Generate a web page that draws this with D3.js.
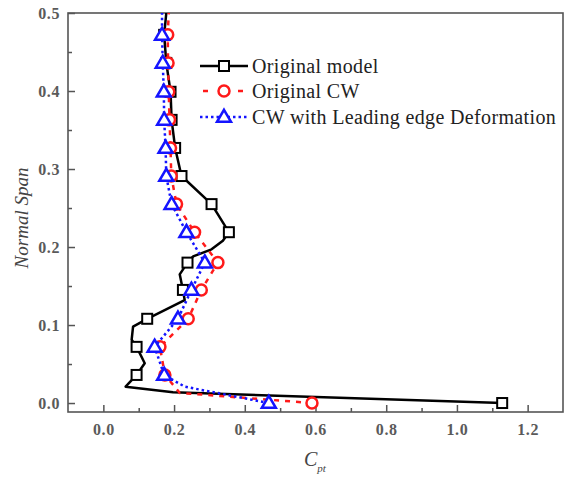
<!DOCTYPE html>
<html>
<head>
<meta charset="utf-8">
<script src="https://cdn.jsdelivr.net/npm/d3@7"></script>
<style>
  html, body { margin: 0; padding: 0; background: #fff; }
  svg { display: block; }
  text { font-family: "Liberation Serif", "Times New Roman", serif; }
</style>
</head>
<body>
<svg id="chart" width="569" height="480"></svg>
<script>
// ---- data (Cpt, Normal Span) ----
const seriesNames = ["Original model", "Original CW", "CW with Leading edge Deformation"];

// line paths (bottom to top)
const origModelLine = [
  [1.128, 0.0], [0.197, 0.0137], [0.063, 0.021], [0.094, 0.036], [0.117, 0.051],
  [0.094, 0.072], [0.080, 0.081], [0.084, 0.098], [0.124, 0.108], [0.230, 0.132],
  [0.225, 0.145], [0.216, 0.165], [0.238, 0.180], [0.254, 0.188], [0.306, 0.197],
  [0.338, 0.208], [0.355, 0.219], [0.306, 0.255], [0.221, 0.291], [0.203, 0.327],
  [0.193, 0.363], [0.190, 0.399], [0.178, 0.436], [0.172, 0.472], [0.178, 0.5]
];
const origModelMarkers = [
  [1.128, 0.0], [0.094, 0.036], [0.094, 0.072], [0.124, 0.108], [0.225, 0.145],
  [0.238, 0.180], [0.355, 0.219], [0.306, 0.255], [0.221, 0.291], [0.203, 0.327],
  [0.193, 0.363], [0.190, 0.399], [0.178, 0.436], [0.172, 0.472]
];

const origCWLine = [
  [0.590, 0.0], [0.216, 0.013], [0.174, 0.036], [0.160, 0.072], [0.240, 0.108],
  [0.277, 0.145], [0.324, 0.180], [0.258, 0.219], [0.207, 0.255], [0.192, 0.291],
  [0.190, 0.327], [0.187, 0.363], [0.185, 0.399], [0.183, 0.436], [0.182, 0.472], [0.185, 0.5]
];
const origCWMarkers = [
  [0.590, 0.0], [0.174, 0.036], [0.160, 0.072], [0.240, 0.108], [0.277, 0.145],
  [0.324, 0.180], [0.258, 0.219], [0.207, 0.255], [0.192, 0.291], [0.190, 0.327],
  [0.187, 0.363], [0.185, 0.399], [0.183, 0.436], [0.182, 0.472]
];

const cwLEDLine = [
  [0.468, 0.0], [0.230, 0.021], [0.172, 0.036], [0.145, 0.072], [0.211, 0.108],
  [0.249, 0.145], [0.287, 0.180], [0.235, 0.219], [0.193, 0.255], [0.178, 0.291],
  [0.176, 0.327], [0.172, 0.363], [0.171, 0.399], [0.168, 0.436], [0.166, 0.472], [0.166, 0.5]
];
const cwLEDMarkers = [
  [0.468, 0.0], [0.172, 0.036], [0.145, 0.072], [0.211, 0.108], [0.249, 0.145],
  [0.287, 0.180], [0.235, 0.219], [0.193, 0.255], [0.178, 0.291], [0.176, 0.327],
  [0.172, 0.363], [0.171, 0.399], [0.168, 0.436], [0.166, 0.472]
];

const xTicks = [0.0, 0.2, 0.4, 0.6, 0.8, 1.0, 1.2];
const xMinorTicks = [0.1, 0.3, 0.5, 0.7, 0.9, 1.1];
const yTicks = [0.0, 0.1, 0.2, 0.3, 0.4, 0.5];
const yMinorTicks = [0.05, 0.15, 0.25, 0.35, 0.45];

// ---- chart ----
const svg = d3.select("#chart");
const L = 68, R = 563, T = 13, B = 412;
const x = d3.scaleLinear().domain([-0.1, 1.3]).range([L, R]);
const y = d3.scaleLinear().domain([-0.0115, 0.5]).range([B, T]);

const frameColor = "#555";

// axes
const xAxis = svg.append("g").attr("transform", `translate(0,${B})`)
  .call(d3.axisBottom(x).tickValues(xTicks).tickFormat(d3.format(".1f"))
    .tickSizeInner(-7).tickSizeOuter(0).tickPadding(12));
const xMinor = svg.append("g").attr("transform", `translate(0,${B})`)
  .call(d3.axisBottom(x).tickValues(xMinorTicks).tickFormat("")
    .tickSizeInner(-4).tickSizeOuter(0));
const yAxis = svg.append("g").attr("transform", `translate(${L},0)`)
  .call(d3.axisLeft(y).tickValues(yTicks).tickFormat(d3.format(".1f"))
    .tickSizeInner(-7).tickSizeOuter(0).tickPadding(8));
const yMinor = svg.append("g").attr("transform", `translate(${L},0)`)
  .call(d3.axisLeft(y).tickValues(yMinorTicks).tickFormat("")
    .tickSizeInner(-4).tickSizeOuter(0));

[xAxis, xMinor, yAxis, yMinor].forEach(g => {
  g.select(".domain").remove();
  g.selectAll("line").attr("stroke", frameColor).attr("stroke-width", 1.5);
  g.selectAll("text")
    .attr("font-size", 16).attr("font-weight", "bold").attr("fill", "#5a5a5a")
    .attr("letter-spacing", 0.6);
});

// frame
svg.append("rect").attr("x", L).attr("y", T).attr("width", R - L).attr("height", B - T)
  .attr("fill", "none").attr("stroke", frameColor).attr("stroke-width", 1.6);

// axis titles
svg.append("text").attr("transform", "translate(28,218) rotate(-90)")
  .attr("text-anchor", "middle").attr("font-size", 19).attr("font-style", "italic")
  .attr("fill", "#444").text("Normal Span");
const xt = svg.append("text").attr("x", 304).attr("y", 466)
  .attr("font-size", 20).attr("font-style", "italic").attr("fill", "#444");
xt.append("tspan").text("C");
xt.append("tspan").attr("font-size", 11).attr("dy", 6).text("pt");

// series styles
const styles = [
  { line: origModelLine, markers: origModelMarkers, color: "#000000", dash: null, legDash: null, shape: "square" },
  { line: origCWLine, markers: origCWMarkers, color: "#ff1a1a", dash: "5,6", legDash: "0,3,5,30,5,5", shape: "circle" },
  { line: cwLEDLine, markers: cwLEDMarkers, color: "#1414ff", dash: "2.5,3", legDash: "2.5,3", shape: "triangle" }
];

const lineGen = d3.line().x(d => x(d[0])).y(d => y(d[1]));

function drawMarker(g, shape, cx, cy, color) {
  if (shape === "square") {
    g.append("rect").attr("x", cx - 5).attr("y", cy - 5).attr("width", 10).attr("height", 10)
      .attr("fill", "#fff").attr("stroke", color).attr("stroke-width", 2);
  } else if (shape === "circle") {
    g.append("circle").attr("cx", cx).attr("cy", cy).attr("r", 5.5)
      .attr("fill", "#fff").attr("stroke", color).attr("stroke-width", 2.5);
  } else {
    const h = 12, w = 14;
    g.append("path")
      .attr("d", `M${cx},${cy - h * 0.6} L${cx + w / 2},${cy + h * 0.4} L${cx - w / 2},${cy + h * 0.4} Z`)
      .attr("fill", "#fff").attr("stroke", color).attr("stroke-width", 2.5)
      .attr("stroke-linejoin", "miter");
  }
}

styles.forEach(s => {
  const g = svg.append("g");
  g.append("path").datum(s.line).attr("d", lineGen)
    .attr("fill", "none").attr("stroke", s.color).attr("stroke-width", 2.5)
    .attr("stroke-dasharray", s.dash).attr("stroke-linejoin", "round");
  s.markers.forEach(d => drawMarker(g, s.shape, x(d[0]), y(d[1]), s.color));
});

// legend
const legRows = [66, 91, 117];
styles.forEach((s, i) => {
  const g = svg.append("g");
  const ly = legRows[i];
  g.append("line").attr("x1", 200).attr("x2", 248).attr("y1", ly).attr("y2", ly)
    .attr("stroke", s.color).attr("stroke-width", 2.5).attr("stroke-dasharray", s.legDash);
  drawMarker(g, s.shape, 224, ly, s.color);
  g.append("text").attr("x", 252).attr("y", ly + 6.5)
    .attr("font-size", 20).attr("fill", "#222").attr("letter-spacing", 0.35).text(seriesNames[i]);
});
</script>
</body>
</html>
